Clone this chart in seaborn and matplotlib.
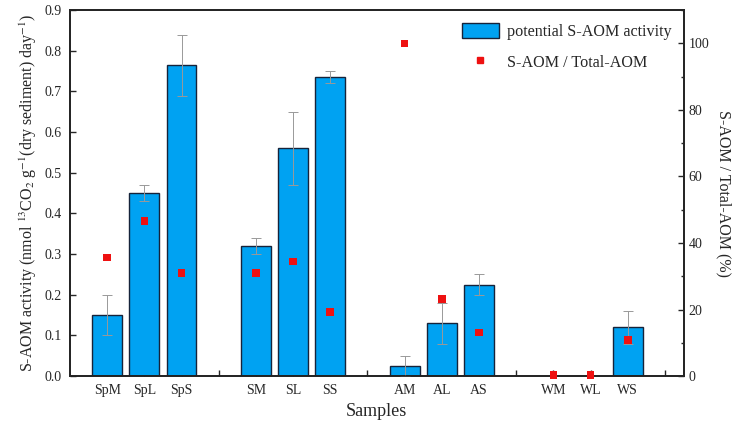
import seaborn as sns
import matplotlib.pyplot as plt
import pandas as pd
from matplotlib.patches import Patch
from matplotlib.lines import Line2D
from matplotlib.ticker import MultipleLocator

sns.set_style("white")
plt.rcParams['font.family'] = ['Liberation Serif', 'DejaVu Serif']
plt.rcParams['mathtext.fontset'] = 'stix'

# Data
samples = ['SpM', 'SpL', 'SpS', 'SM', 'SL', 'SS', 'AM', 'AL', 'AS', 'WM', 'WL', 'WS']
activity = [0.15, 0.45, 0.765, 0.32, 0.56, 0.735, 0.025, 0.13, 0.225, 0.0, 0.0, 0.12]
activity_err = [0.05, 0.02, 0.075, 0.02, 0.09, 0.015, 0.025, 0.05, 0.025, 0.0, 0.0, 0.04]
ratio = [35.7, 46.6, 31.0, 31.0, 34.5, 19.3, 100.0, 23.2, 13.1, 0.3, 0.3, 10.9]

# category order with empty slots between sample groups
gaps = ['g1', 'g2', 'g3', 'g4']
order = samples[0:3] + [gaps[0]] + samples[3:6] + [gaps[1]] + samples[6:9] + [gaps[2]] + samples[9:12] + [gaps[3]]

df = pd.DataFrame({'Sample': samples, 'Activity': activity,
                   'Err': activity_err, 'Ratio': ratio})

fig = plt.figure(figsize=(7.33, 4.24), dpi=100)
ax = fig.add_axes([0.0955, 0.113, 0.837, 0.863])

bar_color = '#00A2F2'
edge_color = '#16233a'
sns.barplot(data=df, x='Sample', y='Activity', order=order, color=bar_color,
            edgecolor=edge_color, linewidth=1.0, width=0.8, saturation=1, ax=ax)
# zero-height bars are not visible in the original
for p in ax.patches:
    if p.get_height() == 0:
        p.set_visible(False)

xpos = [order.index(s) for s in samples]
err_df = df.assign(x=xpos)
err_df = err_df[err_df['Err'] > 0]
ax.errorbar(err_df['x'], err_df['Activity'], yerr=err_df['Err'], fmt='none',
            ecolor='#999999', elinewidth=0.7, capsize=3.5, capthick=0.7, zorder=3)

ax.set_xlim(-1, 15.5)
yticks = [0.0, 0.1, 0.2, 0.3, 0.4, 0.5, 0.6, 0.7, 0.8, 0.9]
ax.set_yticks(yticks)
ax.set_yticklabels([f'{v:.1f}' for v in yticks])
ax.set_ylim(0, 0.9)
ax.set_xticks(range(len(order)))
ax.set_xticklabels([s if s in samples else '' for s in order])
ax.tick_params(axis='both', direction='in', length=4, width=1, labelsize=10, pad=6,
               bottom=True, left=True)
ax.tick_params(axis='y', right=False)
for sp in ax.spines.values():
    sp.set_linewidth(1.2)
    sp.set_color('black')

ax.set_xlabel('Samples', fontsize=13)
ax.set_ylabel('S-AOM activity (nmol $^{13}$CO$_2$ g$^{-1}$(dry sediment) day$^{-1}$)',
              fontsize=11.5)

ax2 = ax.twinx()
sns.scatterplot(x=xpos, y=df['Ratio'], marker='s', color='#ee1111', s=30,
                edgecolor='none', ax=ax2, zorder=4, clip_on=False)
ax2.set_ylim(0, 110)
ax2.yaxis.set_major_locator(MultipleLocator(20))
ax2.yaxis.set_minor_locator(MultipleLocator(10))
ax2.tick_params(axis='y', which='major', direction='in', length=4, width=1,
                labelsize=10, right=True)
ax2.tick_params(axis='y', which='minor', direction='in', length=2.5, width=1, right=True)
ax2.set_ylabel('S-AOM / Total-AOM (%)', fontsize=11.5, rotation=270, labelpad=16)
for sp in ax2.spines.values():
    sp.set_linewidth(1.2)

handles = [Patch(facecolor=bar_color, edgecolor=edge_color, linewidth=1.0),
           Line2D([], [], marker='s', color='#ee1111', linestyle='none', markersize=4.5)]
ax2.legend(handles, ['potential S-AOM activity', 'S-AOM / Total-AOM'],
           loc='upper right', bbox_to_anchor=(1.004, 1.005), frameon=False,
           fontsize=11.6, handlelength=2.3, handleheight=1.1, labelspacing=0.85,
           handletextpad=0.5)

fig.savefig('out.png', dpi=100)
